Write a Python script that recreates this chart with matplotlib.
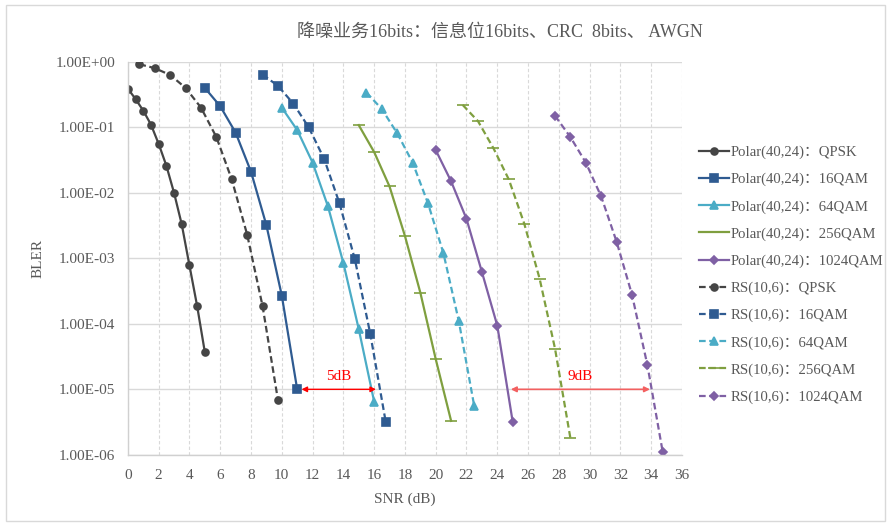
import matplotlib
matplotlib.use("Agg")
import matplotlib.pyplot as plt
from matplotlib.patches import Rectangle

plt.rcParams['font.family'] = ['Liberation Serif', 'Noto Sans CJK SC']

# Polar(40,24) curves
polar_qpsk_snr = [0, 0.5, 1, 1.5, 2, 2.5, 3, 3.5, 4, 4.5, 5]
polar_qpsk_bler = [0.39, 0.27, 0.18, 0.11, 0.056, 0.026, 0.01, 0.0033, 0.00078, 0.000187, 3.7e-5]
polar_16_snr = [5, 6, 7, 8, 9, 10, 11]
polar_16_bler = [0.40, 0.21, 0.083, 0.021, 0.0032, 2.7e-4, 1.0e-5]
polar_64_snr = [10, 11, 12, 13, 14, 15, 16]
polar_64_bler = [0.20, 0.091, 0.029, 0.0062, 8.5e-4, 8.3e-5, 6.5e-6]
polar_256_snr = [15, 16, 17, 18, 19, 20, 21]
polar_256_bler = [0.108, 0.042, 0.0125, 0.0022, 3.0e-4, 2.9e-5, 3.3e-6]
polar_1024_snr = [20, 21, 22, 23, 24, 25]
polar_1024_bler = [0.045, 0.015, 0.004, 6.2e-4, 9.4e-5, 3.2e-6]

# RS(10,6) curves
rs_qpsk_snr = [0.75, 1.75, 2.75, 3.75, 4.75, 5.75, 6.75, 7.75, 8.75, 9.75]
rs_qpsk_bler = [0.92, 0.8, 0.63, 0.4, 0.2, 0.071, 0.016, 0.0023, 1.87e-4, 6.9e-6]
rs_16_snr = [8.75, 9.75, 10.75, 11.75, 12.75, 13.75, 14.75, 15.75, 16.75]
rs_16_bler = [0.64, 0.43, 0.23, 0.1, 0.033, 0.0069, 9.6e-4, 7.0e-5, 3.2e-6]
rs_64_snr = [15.5, 16.5, 17.5, 18.5, 19.5, 20.5, 21.5, 22.5]
rs_64_bler = [0.34, 0.19, 0.081, 0.029, 0.0069, 0.0012, 1.1e-4, 5.6e-6]
rs_256_snr = [21.75, 22.75, 23.75, 24.75, 25.75, 26.75, 27.75, 28.75]
rs_256_bler = [0.22, 0.124, 0.048, 0.016, 0.0034, 4.9e-4, 4.2e-5, 1.8e-6]
rs_1024_snr = [27.75, 28.75, 29.75, 30.75, 31.75, 32.75, 33.75, 34.75]
rs_1024_bler = [0.15, 0.071, 0.029, 0.0088, 0.0018, 2.8e-4, 2.36e-5, 1.1e-6]

x_ticks = list(range(0, 37, 2))
y_ticks = [1, 1e-1, 1e-2, 1e-3, 1e-4, 1e-5, 1e-6]
y_tick_labels = ['1.00E+00', '1.00E-01', '1.00E-02', '1.00E-03', '1.00E-04', '1.00E-05', '1.00E-06']

gray = '#454545'
blue = '#2F5B91'
cyan = '#4BACC6'
green = '#7F9F3F'
purple = '#7F60A4'
txt = '#595959'
dash = (0, (3, 1.6))

fig = plt.figure(figsize=(8.88, 5.24), dpi=100)
ax = fig.add_axes([0.144, 0.132, 0.624, 0.75])

series = [
    (polar_qpsk_snr, polar_qpsk_bler, gray, 'o', 5, '-', 'Polar(40,24)：QPSK'),
    (polar_16_snr, polar_16_bler, blue, 's', 5.5, '-', 'Polar(40,24)：16QAM'),
    (polar_64_snr, polar_64_bler, cyan, '^', 5.5, '-', 'Polar(40,24)：64QAM'),
    (polar_256_snr, polar_256_bler, green, '_', 8, '-', 'Polar(40,24)：256QAM'),
    (polar_1024_snr, polar_1024_bler, purple, 'D', 4.5, '-', 'Polar(40,24)：1024QAM'),
    (rs_qpsk_snr, rs_qpsk_bler, gray, 'o', 5, dash, 'RS(10,6)：QPSK'),
    (rs_16_snr, rs_16_bler, blue, 's', 5.5, dash, 'RS(10,6)：16QAM'),
    (rs_64_snr, rs_64_bler, cyan, '^', 5.5, dash, 'RS(10,6)：64QAM'),
    (rs_256_snr, rs_256_bler, green, '_', 8, dash, 'RS(10,6)：256QAM'),
    (rs_1024_snr, rs_1024_bler, purple, 'D', 4.5, dash, 'RS(10,6)：1024QAM'),
]
for x, y, c, m, ms, ls, lab in series:
    ax.plot(x, y, color=c, marker=m, markersize=ms, linestyle=ls, linewidth=1.6,
            markeredgewidth=1.2, label=lab)

ax.set_yscale('log')
ax.set_xlim(0, 36)
ax.set_ylim(1e-6, 1)
ax.set_xticks(x_ticks)
ax.set_yticks(y_ticks)
ax.set_yticklabels(y_tick_labels)
ax.minorticks_off()
ax.tick_params(axis='both', length=0, labelsize=11, colors=txt)
ax.tick_params(axis='y', pad=9)
ax.tick_params(axis='x', pad=10)
ax.grid(axis='y', color='#D9D9D9', linewidth=1, linestyle='-')
ax.grid(axis='x', color='#D9D9D9', linewidth=0.8, linestyle=(0, (3, 2)))
ax.set_axisbelow(True)
for s in ['top', 'right']:
    ax.spines[s].set_visible(False)
for s in ['left', 'bottom']:
    ax.spines[s].set_color('#D0D0D0')
    ax.spines[s].set_linewidth(1)

ax.set_xlabel('SNR (dB)', fontsize=11, color=txt, labelpad=8)
ax.set_ylabel('BLER', fontsize=11, color=txt, labelpad=8)

# dB gap annotations
red = '#FF0000'
ax.annotate('', xy=(11.1, 1e-5), xytext=(16.3, 1e-5),
            arrowprops=dict(arrowstyle='<|-|>', color=red, lw=1, mutation_scale=8))
ax.text(13.7, 1.25e-5, '5dB', color=red, fontsize=11, ha='center', va='bottom')
ax.annotate('', xy=(24.7, 1e-5), xytext=(34.1, 1e-5),
            arrowprops=dict(arrowstyle='<|-|>', color='#F36060', lw=1.2, mutation_scale=8))
ax.text(29.4, 1.25e-5, '9dB', color=red, fontsize=11, ha='center', va='bottom')

ax.legend(loc='upper left', bbox_to_anchor=(0.781, 0.733), bbox_transform=fig.transFigure,
          frameon=False, fontsize=10.6, labelspacing=0.93, handlelength=2.0,
          handletextpad=0.1, borderaxespad=0, labelcolor=txt)

fig.text(0.563, 0.938, '降噪业务16bits：信息位16bits、CRC  8bits、 AWGN',
         ha='center', va='center', fontsize=13, color=txt)

fig.patches.append(Rectangle((0.007, 0.006), 0.99, 0.985, transform=fig.transFigure,
                             fill=False, edgecolor='#D9D9D9', linewidth=1))

fig.savefig('out.png', dpi=100)
